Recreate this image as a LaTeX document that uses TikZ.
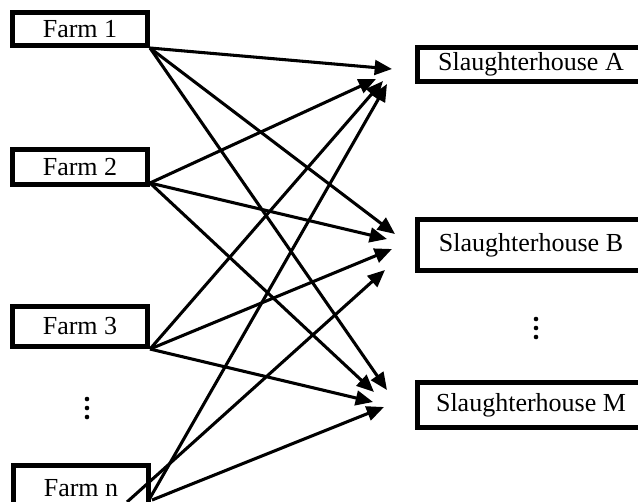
\documentclass[tikz,border=0pt]{standalone}
\usepackage{fontspec}
\setmainfont{Liberation Serif}
\usetikzlibrary{arrows.meta}

\tikzset{
  farm/.style={draw,line width=4pt,inner sep=0pt,minimum width=101pt,fill=white,
    font=\fontsize{19.5}{23}\selectfont},
  house/.style={farm,minimum width=170pt},
  flow/.style={-{Triangle[length=13pt,width=11pt]},line width=2.3pt}
}

\begin{document}
\begin{tikzpicture}[x=0.75pt,y=-0.75pt]
\useasboundingbox (0,0) rectangle (638,501);
\clip (0,0) rectangle (638,501);
% farms
\node[farm,minimum height=24.5pt] (f1) at (80,29) {Farm 1};
\node[farm,minimum height=26pt] (f2) at (80,167) {Farm 2};
\node[farm,minimum height=29.8pt] (f3) at (80,326.5) {Farm 3};
\node[farm,minimum height=33.5pt] (fn) at (81,488) {Farm n};
% slaughterhouses
\node[house,minimum height=25.3pt] (sa) at (531,64.5) {Slaughterhouse A};
\node[house,minimum height=38pt] (sb) at (531,245) {Slaughterhouse B};
\node[house,minimum height=33.5pt] (sm) at (531,405) {Slaughterhouse M};
% dots
\foreach \y in {399,408,417} \fill (87,\y) circle (2.3);
\foreach \y in {319,328,337} \fill (536,\y) circle (2.3);
% arrow tips
\coordinate (a1) at (392,69);
\coordinate (a2) at (376,79);
\coordinate (a3) at (383,81);
\coordinate (an) at (387,84);
\coordinate (b1) at (395,234);
\coordinate (b2) at (387,239);
\coordinate (b3) at (392,249);
\coordinate (bn) at (385,270);
\coordinate (m1) at (387,390);
\coordinate (m2) at (374,392);
\coordinate (m3) at (373,402);
\coordinate (mn) at (384,407);
% starts at farm n
\coordinate (fna) at (150,498);
\coordinate (fnb) at (127,502);
\coordinate (fnm) at (152,500);
% flows
\draw[flow] (f1.south east) -- (a1);
\draw[flow] (f1.south east) -- (b1);
\draw[flow] (f1.south east) -- (m1);
\draw[flow] ([yshift=3pt]f2.south east) -- (a2);
\draw[flow] ([yshift=3pt]f2.south east) -- (b2);
\draw[flow] ([yshift=3pt]f2.south east) -- (m2);
\draw[flow] (f3.south east) -- (a3);
\draw[flow] (f3.south east) -- (b3);
\draw[flow] (f3.south east) -- (m3);
\draw[flow] (fna) -- (an);
\draw[flow] (fnb) -- (bn);
\draw[flow] (fnm) -- (mn);
\end{tikzpicture}
\end{document}
